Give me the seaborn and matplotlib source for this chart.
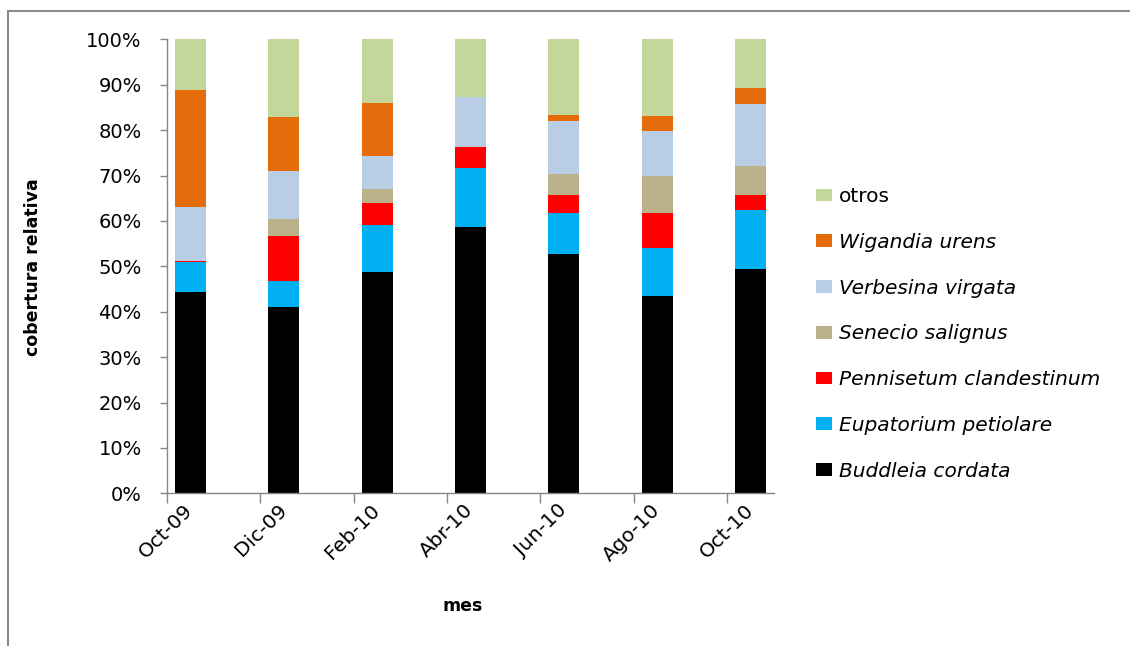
import seaborn as sns
import matplotlib.pyplot as plt
import numpy as np
import pandas as pd
from matplotlib.patches import Patch, Rectangle
from matplotlib.ticker import FixedLocator, PercentFormatter

sns.set_style("white")
plt.rcParams['font.family'] = ['DejaVu Sans']
plt.rcParams['text.color'] = 'black'
plt.rcParams['xtick.labelcolor'] = 'black'
plt.rcParams['ytick.labelcolor'] = 'black'

# data (cover %)
meses = ["Oct-09", "Dic-09", "Feb-10", "Abr-10", "Jun-10", "Ago-10", "Oct-10"]
buddleia = [44.4, 41.0, 48.7, 58.6, 52.7, 43.4, 49.5]
eupatorium = [6.5, 5.8, 10.4, 13.1, 9.0, 10.6, 12.8]
pennisetum = [0.3, 9.9, 4.8, 4.5, 4.1, 7.7, 3.5]
senecio = [0.0, 3.7, 3.2, 0.0, 4.5, 8.1, 6.4]
verbesina = [11.9, 10.7, 7.1, 11.1, 11.7, 10.1, 13.5]
wigandia = [25.8, 11.7, 11.8, 0.0, 1.3, 3.2, 3.5]
otros = [11.1, 17.2, 14.0, 12.7, 16.7, 16.9, 10.8]

especies = ["Buddleia cordata", "Eupatorium petiolare", "Pennisetum clandestinum",
            "Senecio salignus", "Verbesina virgata", "Wigandia urens", "otros"]
colores = ["#000000", "#00B0F0", "#FF0000", "#BBB28A", "#B9CDE5", "#E46C0A", "#C4D79B"]

df = pd.DataFrame({"mes": meses,
                   "Buddleia cordata": buddleia,
                   "Eupatorium petiolare": eupatorium,
                   "Pennisetum clandestinum": pennisetum,
                   "Senecio salignus": senecio,
                   "Verbesina virgata": verbesina,
                   "Wigandia urens": wigandia,
                   "otros": otros})
# normalise to 100%
tot = df[especies].sum(axis=1)
for e in especies:
    df[e] = df[e] / tot * 100
cum = df[especies].cumsum(axis=1)

fig = plt.figure(figsize=(11.3, 6.46), dpi=100)
ax = fig.add_axes([166.7 / 1130, 1 - 493.3 / 646, (774 - 166.7) / 1130, (493.3 - 39.3) / 646])

# stacked: draw tallest cumulative first
for e, c in reversed(list(zip(especies, colores))):
    sns.barplot(x=df["mes"], y=cum[e], color=c, width=0.33, ax=ax,
                saturation=1, edgecolor="none", linewidth=0, order=meses)

off = (190.3 - 166.7) / 93.4
ax.set_xlim(-off, (774 - 190.3) / 93.4)
ax.set_ylim(0, 100)
ax.yaxis.set_major_locator(FixedLocator(np.arange(0, 101, 10)))
ax.yaxis.set_major_formatter(PercentFormatter(decimals=0))
ax.xaxis.set_minor_locator(FixedLocator(np.arange(7) - off))
ax.set_xticks(range(7))
ax.set_xticklabels(meses, rotation=45, ha="right", va="center", rotation_mode="anchor")

grey = "#868686"
for s in ["top", "right"]:
    ax.spines[s].set_visible(False)
for s in ["left", "bottom"]:
    ax.spines[s].set_color(grey)
    ax.spines[s].set_linewidth(1.0)
ax.tick_params(axis="x", which="major", length=0, pad=10, labelsize=14.5)
ax.tick_params(axis="x", which="minor", length=7, width=1, color=grey, direction="out", bottom=True)
ax.tick_params(axis="y", length=5, width=1, color=grey, direction="out", left=True,
               pad=13, labelsize=14)
ax.set_xlabel("")
ax.set_ylabel("")

fig.text(33 / 1130, 1 - 267 / 646, "cobertura relativa", rotation=90, ha="center", va="center",
         fontsize=12.5, fontweight="bold")
fig.text(463 / 1130, 1 - 606 / 646, "mes", ha="center", va="center", fontsize=12.5, fontweight="bold")

# legend (top to bottom: otros ... Buddleia)
handles = [Patch(facecolor=c, edgecolor="none") for c in reversed(colores)]
labels = list(reversed(especies))
leg = fig.legend(handles, labels, loc="upper left", bbox_to_anchor=(816 / 1130, 1 - 187 / 646),
                 frameon=False, fontsize=14.5, labelspacing=1.33, handlelength=0.8,
                 handleheight=0.6, handletextpad=0.35, borderpad=0, borderaxespad=0)
for t in leg.get_texts():
    if t.get_text() != "otros":
        t.set_fontstyle("italic")

# chart frame
fig.patches.append(Rectangle((8 / 1130, -0.1), 1.2, 1 - 11 / 646 + 0.1, transform=fig.transFigure,
                             fill=False, edgecolor="#8C8C8C", linewidth=1.5))

fig.savefig("out.png", dpi=100)
